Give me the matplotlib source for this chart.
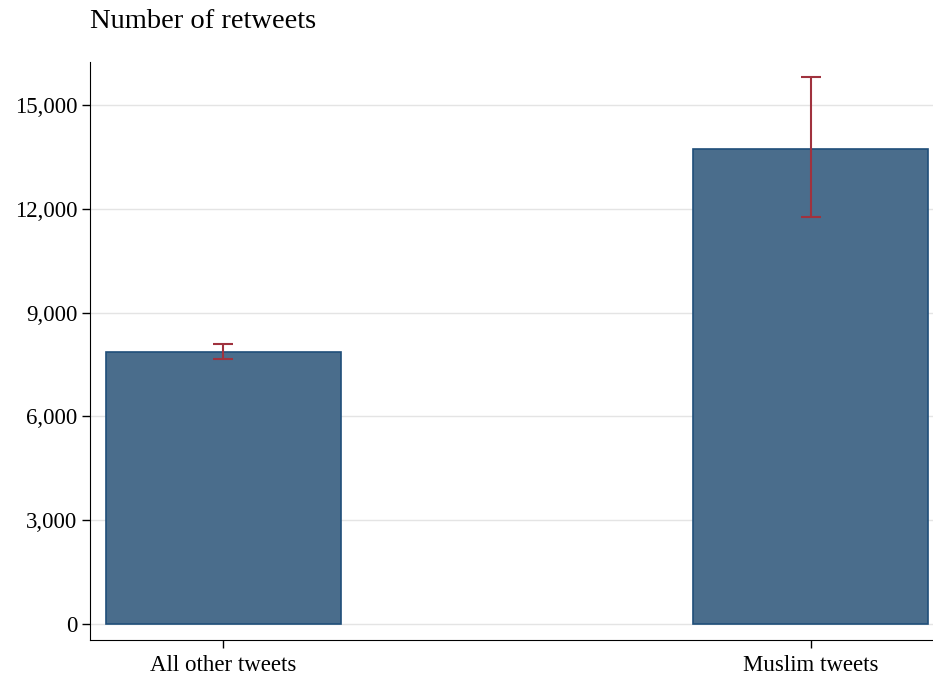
import matplotlib
matplotlib.use("Agg")
import matplotlib.pyplot as plt
from matplotlib.ticker import FuncFormatter

categories = ["All other tweets", "Muslim tweets"]
means = [7860, 13730]
ci_low = [7660, 11765]
ci_high = [8090, 15810]

plt.rcParams["font.family"] = ["Liberation Serif", "DejaVu Serif"]

fig = plt.figure(figsize=(9.33, 6.79), dpi=100)
ax = fig.add_axes([90 / 933, 1 - 640 / 679, 1 - 90 / 933, (640 - 62) / 679])

pos = range(len(categories))
ax.bar(pos, means, width=0.4, color="#4a6d8c", edgecolor="#1f4e79",
       linewidth=1.2, zorder=2)
yerr = [[m - lo for m, lo in zip(means, ci_low)],
        [hi - m for m, hi in zip(means, ci_high)]]
ax.errorbar(pos, means, yerr=yerr, fmt="none", ecolor="#a0323e",
            elinewidth=1.5, capsize=7, capthick=1.5, zorder=3)

ax.set_xlim(-0.2264, 1.2085)
ax.set_ylim(-462, 16243)
ax.set_yticks(range(0, 15001, 3000))
ax.yaxis.set_major_formatter(FuncFormatter(lambda v, p: f"{int(v):,}"))
ax.set_xticks(list(pos))
ax.set_xticklabels(categories)
ax.tick_params(axis="both", labelsize=16.5, length=6, width=1, color="black")
ax.tick_params(axis="y", pad=3)
ax.tick_params(axis="x", pad=5)
ax.grid(axis="y", color="#e4e4e4", linewidth=1, zorder=0)
ax.spines["top"].set_visible(False)
ax.spines["right"].set_visible(False)

fig.text(90 / 933, 1 - 22 / 679, "Number of retweets", fontsize=20.5,
         ha="left", va="center")

fig.savefig("out.png", dpi=100, facecolor="white")
